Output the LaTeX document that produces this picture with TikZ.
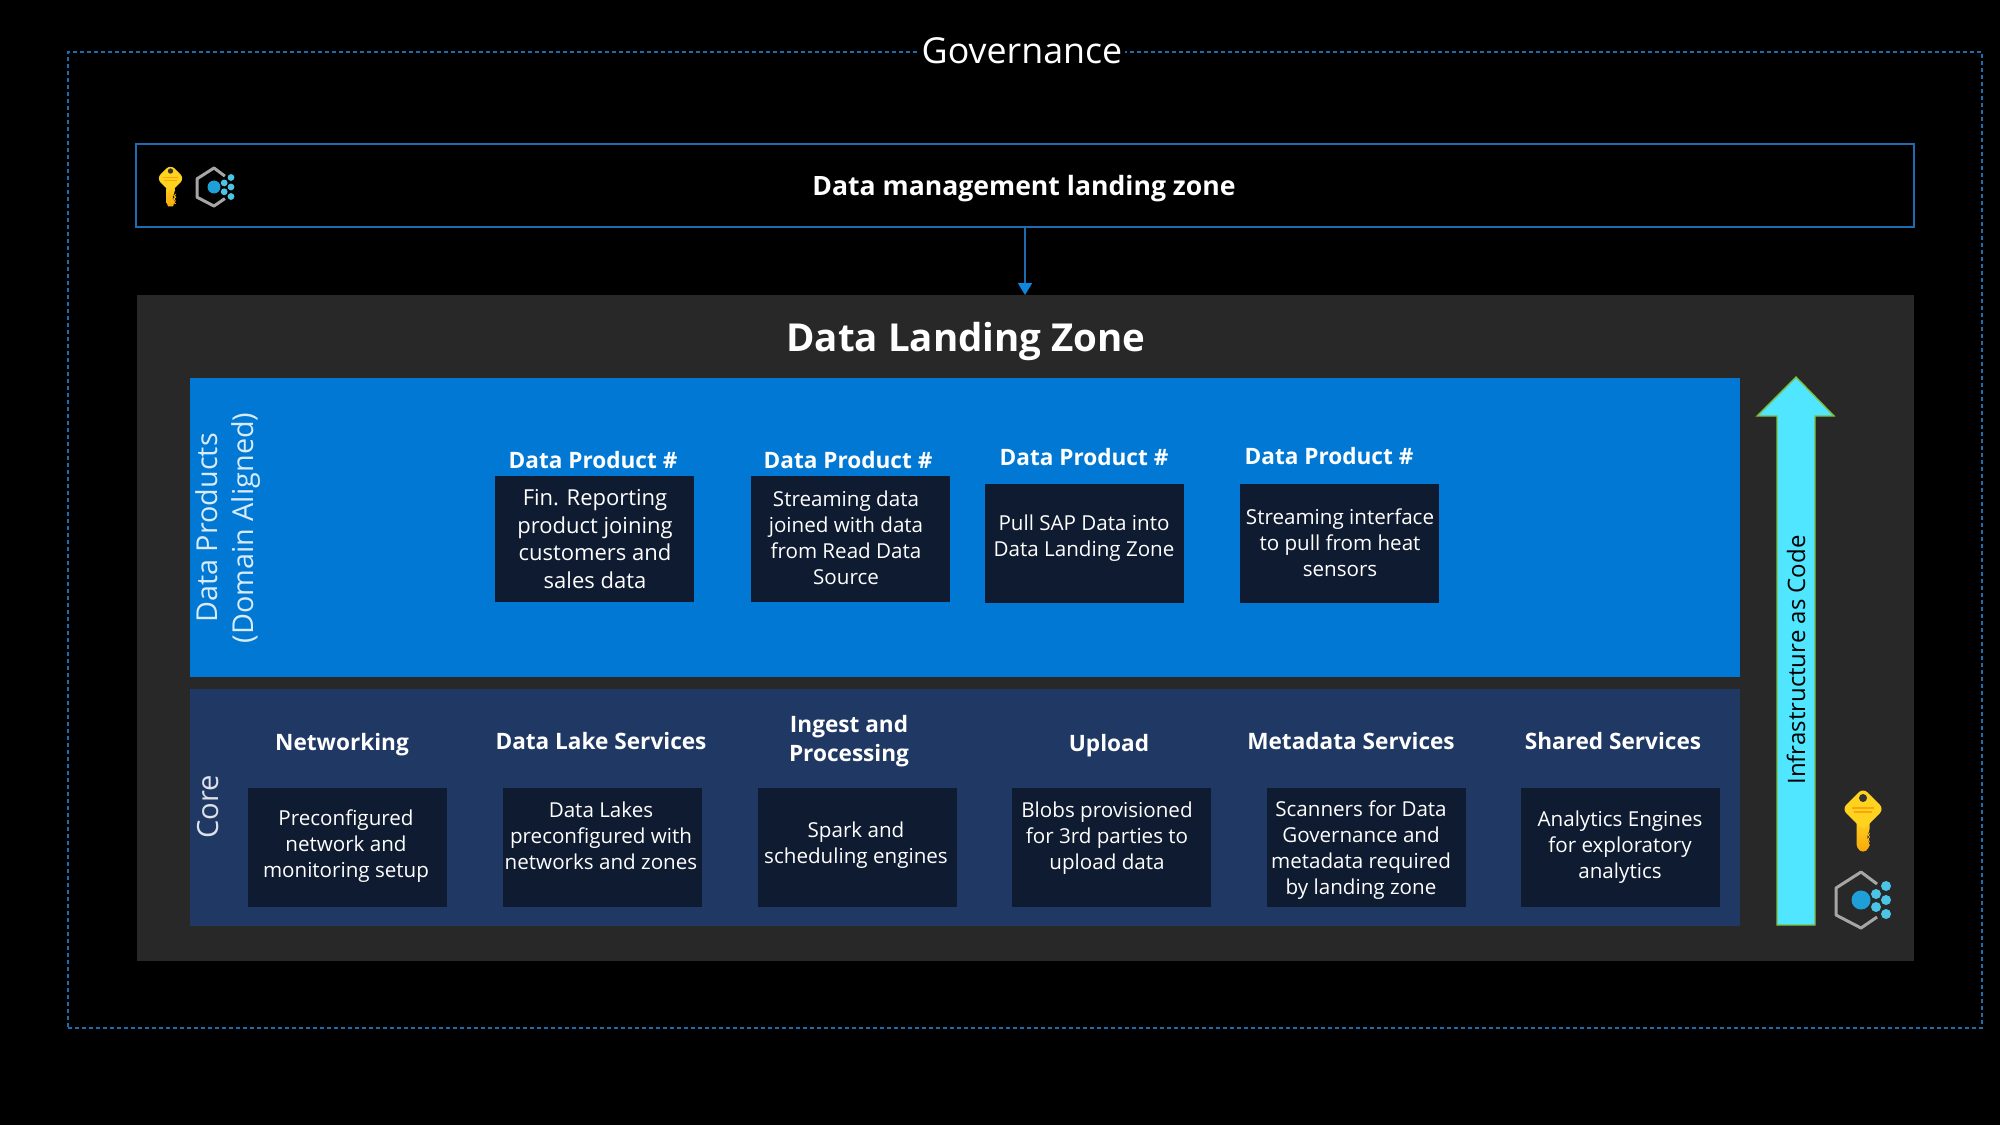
\documentclass[tikz,border=0pt]{standalone}
\usepackage{fontspec}
\setmainfont{Open Sans}
\usepackage{xcolor}
\usetikzlibrary{arrows.meta,shapes.geometric,positioning}

\definecolor{lineblue}{HTML}{1E6BB0}
\definecolor{tipblue}{HTML}{0F86E0}
\definecolor{zonegray}{HTML}{282828}
\definecolor{prodblue}{HTML}{0078D4}
\definecolor{coreblue}{HTML}{203864}
\definecolor{itemnavy}{HTML}{0F1B30}
\definecolor{iacfill}{HTML}{50E6FF}
\definecolor{iacline}{HTML}{7DBB3C}
\definecolor{hexgray}{HTML}{A6A6A6}
\definecolor{dotcyan}{HTML}{4CC4E6}
\definecolor{corecyan}{HTML}{1F9FD8}
\definecolor{keytop}{HTML}{FFD21F}
\definecolor{keybot}{HTML}{F7A70A}

\tikzset{
  zonebox/.style={rectangle, inner sep=0pt, outer sep=0pt, text=white},
  itembox/.style={rectangle, fill=itemnavy, inner sep=0pt, outer sep=0pt, minimum width=99.5pt},
  itemtext/.style={text=white, align=center, inner sep=0pt, font=\fontsize{10.3}{13}\selectfont},
  headtext/.style={text=white, align=center, inner sep=0pt, font=\fontsize{11.3}{14.6}\selectfont\bfseries},
  flowline/.style={draw=lineblue, line width=1pt, -{Triangle[length=6pt,width=7pt,fill=tipblue,color=tipblue]}},
  keyicon/.pic={
    \shade[top color=keytop, bottom color=keybot, rounded corners=2pt]
      (-6.5,30) -- (6.5,30) -- (6.5,44) -- (4,46) -- (6.5,48) -- (4,50) -- (6.5,53) -- (6.5,59) -- (0,64) -- (-6.5,59) -- cycle;
    \fill[keytop, rounded corners=3pt] (0,-1) -- (21,20) -- (0,41) -- (-21,20) -- cycle;
    \fill[keybot] (-11,18) rectangle (11,20);
    \fill[keybot] (-9,22) rectangle (9,23.5);
    \fill[black!80] (0,9) circle (4);
  },
  hexicon/.pic={
    \draw[hexgray, line width=1.5pt, line join=round] (16,-16) -- (0,-28) -- (-25,-12) -- (-25,15) -- (0,28) -- (16,17);
    \fill[corecyan] (0,0) circle (9.5);
    \foreach \dotx/\doty in {15/-6,15/7,25/-14,25/0,25/14}
      \fill[dotcyan] (\dotx,\doty) circle (5);
  },
}

\begin{document}
\begin{tikzpicture}[x=0.5pt,y=-0.5pt]

\fill[black] (0,0) rectangle (2000,1125);
\useasboundingbox (0,0) rectangle (2000,1125);

% governance frame
\node[rectangle, draw=lineblue, dash pattern=on 2pt off 1.5pt, line width=0.7pt, minimum width=957pt, minimum height=488pt] (governance) at (1025,540) {};
\node[fill=black, text=white, inner sep=1.5pt, font=\fontsize{17.9}{20}\selectfont] (governancelabel) at (1022,51) {Governance};

% data management landing zone
\node[zonebox, draw=lineblue, line width=1pt, minimum width=889pt, minimum height=41.5pt] (dmlz) at (1025,185.5) {};
\node[text=white, inner sep=0pt, font=\fontsize{13.3}{16}\selectfont\bfseries] (dmlzlabel) at (1024,188.5) {Data management landing zone};
\pic[scale=0.67] at (170.5,165) {keyicon};
\pic[scale=0.68] at (214,187) {hexicon};

% data landing zone
\node[zonebox, fill=zonegray, minimum width=888.5pt, minimum height=333pt] (dlz) at (1025,628) {};
\node[text=white, inner sep=0pt, font=\fontsize{19.25}{24}\selectfont\bfseries] (dlzlabel) at (966,341) {Data Landing Zone};
\draw[flowline] (dmlz.south) -- (dlz.north);

% data products
\node[zonebox, fill=prodblue, minimum width=775pt, minimum height=149.5pt] (products) at (965,527.5) {};
\node[rotate=90, text=white!85!prodblue, align=center, inner sep=0pt, font=\fontsize{14.4}{17.6}\selectfont] (productslabel) at (228,528) {Data Products\\(Domain Aligned)};

\node[headtext] (prodhead1) at (593,460) {Data Product \#};
\node[headtext] (prodhead2) at (848,460) {Data Product \#};
\node[headtext] (prodhead3) at (1084,457) {Data Product \#};
\node[headtext] (prodhead4) at (1329,456) {Data Product \#};

\node[itembox, minimum height=63pt] (prod1) at (594.5,539) {};
\node[itembox, minimum height=63pt] (prod2) at (850,539) {};
\node[itembox, minimum height=59.5pt] (prod3) at (1084,543) {};
\node[itembox, minimum height=59.5pt] (prod4) at (1339,543) {};

\node[itemtext, font=\fontsize{11}{13.8}\selectfont] (prodtext1) at (595,539) {Fin. Reporting\\product joining\\customers and\\sales data};
\node[itemtext] (prodtext2) at (846,538) {Streaming data\\joined with data\\from Read Data\\Source};
\node[itemtext] (prodtext3) at (1084,538) {Pull SAP Data into\\Data Landing Zone};
\node[itemtext] (prodtext4) at (1340,543) {Streaming interface\\to pull from heat\\sensors};

% core
\node[zonebox, fill=coreblue, minimum width=775pt, minimum height=118.5pt] (core) at (965,807) {};
\node[rotate=90, text=white!85!coreblue, inner sep=0pt, font=\fontsize{14.6}{16.5}\selectfont] (corelabel) at (208,807) {Core};

\node[headtext] (corehead1) at (342,744.5) {Networking};
\node[headtext] (corehead2) at (601,741) {Data Lake Services};
\node[headtext] (corehead3) at (849,741) {Ingest and\\Processing};
\node[headtext] (corehead4) at (1109,746) {Upload};
\node[headtext] (corehead5) at (1351,741) {Metadata Services};
\node[headtext] (corehead6) at (1613,741) {Shared Services};

\node[itembox, minimum height=59.5pt] (core1) at (347,847.5) {};
\node[itembox, minimum height=59.5pt] (core2) at (602,847.5) {};
\node[itembox, minimum height=59.5pt] (core3) at (857,847.5) {};
\node[itembox, minimum height=59.5pt] (core4) at (1111,847.5) {};
\node[itembox, minimum height=59.5pt] (core5) at (1366,847.5) {};
\node[itembox, minimum height=59.5pt] (core6) at (1620,847.5) {};

\node[itemtext] (coretext1) at (346,846) {Preconfigured\\network and\\monitoring setup};
\node[itemtext] (coretext2) at (601,836) {Data Lakes\\preconfigured with\\networks and zones};
\node[itemtext] (coretext3) at (856,845) {Spark and\\scheduling engines};
\node[itemtext] (coretext4) at (1107,838) {Blobs provisioned\\for 3rd parties to\\upload data};
\node[itemtext] (coretext5) at (1361,850) {Scanners for Data\\Governance and\\metadata required\\by landing zone};
\node[itemtext] (coretext6) at (1620,847) {Analytics Engines\\for exploratory\\analytics};

% infrastructure as code
\draw[draw=iacline, fill=iacfill, line width=0.7pt] (1777,925) -- (1777,416) -- (1757,416) -- (1796,377) -- (1834,416) -- (1815,416) -- (1815,925) -- cycle;
\node[rotate=90, text=black, inner sep=0pt, font=\fontsize{12}{14}\selectfont] (iaclabel) at (1796,660) {Infrastructure as Code};
\pic at (1863,789) {keyicon};
\pic at (1861,900) {hexicon};

\end{tikzpicture}
\end{document}
